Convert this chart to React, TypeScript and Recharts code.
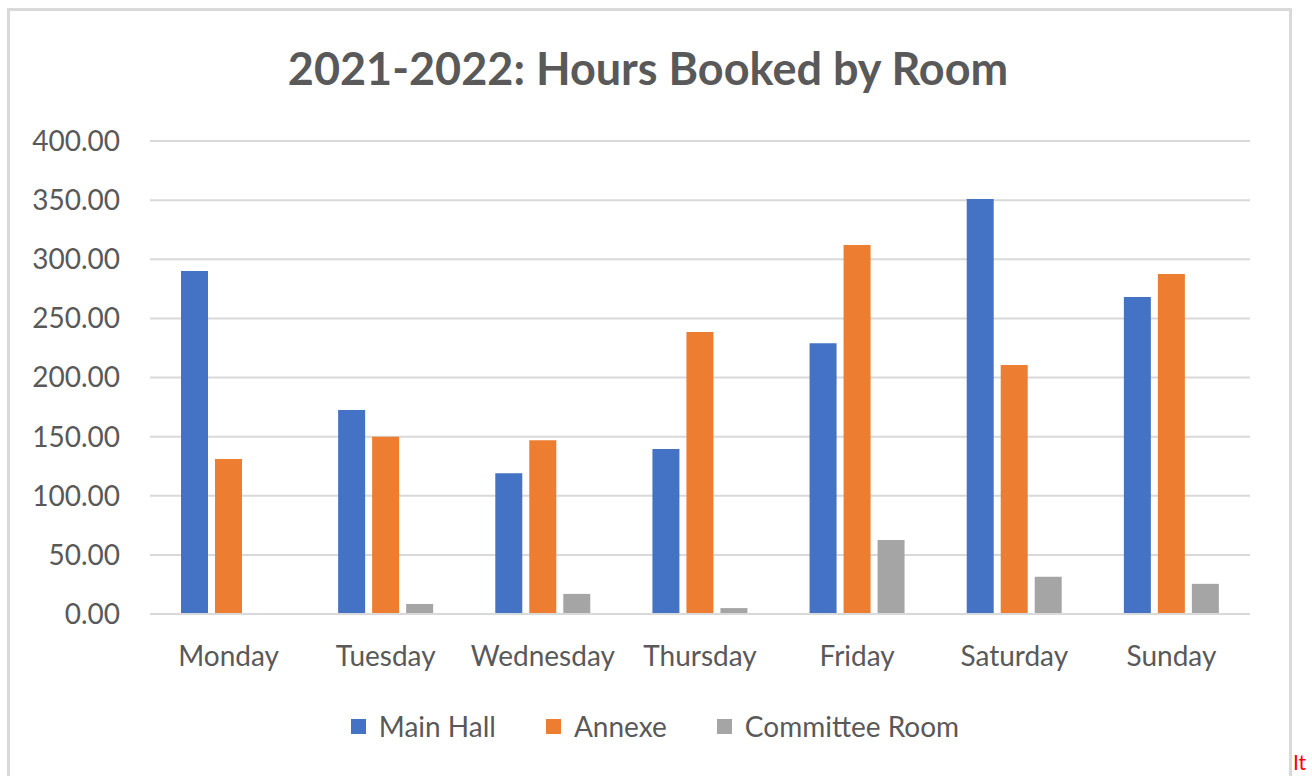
import React from "react";
import { BarChart, Bar, XAxis, YAxis, CartesianGrid } from "recharts";

const days = [
  "Monday",
  "Tuesday",
  "Wednesday",
  "Thursday",
  "Friday",
  "Saturday",
  "Sunday",
];
const mainHall = [290, 172.5, 119, 139.5, 229, 351, 268];
const annexe = [131, 150, 147, 238.5, 312, 210.5, 287.5];
const committeeRoom = [0, 8.5, 17, 5, 62.5, 31.5, 25.5];
const yTicks = [0, 50, 100, 150, 200, 250, 300, 350, 400];

const series = [
  { key: "mainHall", name: "Main Hall", color: "#4472C4" },
  { key: "annexe", name: "Annexe", color: "#ED7D31" },
  { key: "committeeRoom", name: "Committee Room", color: "#A5A5A5" },
];

const data = days.map((day, i) => ({
  day,
  mainHall: mainHall[i],
  annexe: annexe[i],
  committeeRoom: committeeRoom[i],
}));

const FONT = "Lato, 'Open Sans', sans-serif";
const TEXT = "#595959";

export default function App() {
  return (
    <div
      style={{
        position: "absolute",
        left: 0,
        top: 0,
        width: 1312,
        height: 776,
        overflow: "hidden",
        background: "#fff",
      }}
    >
      <div
        style={{
          position: "absolute",
          left: 7,
          top: 8,
          width: 1279,
          height: 820,
          border: "3px solid #d9d9d9",
        }}
      />
      <div
        style={{
          position: "absolute",
          left: 0,
          top: 38,
          width: 1296,
          textAlign: "center",
          fontFamily: FONT,
          fontWeight: 700,
          fontSize: 45,
          color: TEXT,
          lineHeight: "60px",
        }}
      >
        2021-2022: Hours Booked by Room
      </div>
      <div style={{ position: "absolute", left: 0, top: 0 }}>
        <BarChart
          width={1312}
          height={776}
          data={data}
          margin={{ top: 141, right: 62, bottom: 132, left: 0 }}
          barCategoryGap={31}
          barGap={7}
        >
          <CartesianGrid vertical={false} stroke="#d9d9d9" strokeWidth={2} />
          <XAxis
            dataKey="day"
            axisLine={{ stroke: "#d9d9d9", strokeWidth: 2 }}
            tickLine={false}
            tickMargin={26}
            tick={{ fill: TEXT, fontSize: 28, fontFamily: FONT }}
            interval={0}
          />
          <YAxis
            width={150}
            domain={[0, 400]}
            ticks={yTicks}
            axisLine={false}
            tickLine={false}
            tickMargin={24}
            tickFormatter={(v: number) => v.toFixed(2)}
            tick={{ fill: TEXT, fontSize: 28, fontFamily: FONT }}
          />
          {series.map((s) => (
            <Bar
              key={s.key}
              dataKey={s.key}
              name={s.name}
              fill={s.color}
              isAnimationActive={false}
            />
          ))}
        </BarChart>
      </div>
      {/* legend */}
      <div
        style={{
          position: "absolute",
          left: 0,
          top: 707,
          width: 1310,
          display: "flex",
          justifyContent: "center",
          alignItems: "center",
          fontFamily: FONT,
          fontSize: 28,
          lineHeight: "38px",
          color: TEXT,
        }}
      >
        {series.map((s, i) => (
          <div
            key={s.key}
            style={{
              display: "flex",
              alignItems: "center",
              marginLeft: i === 0 ? 0 : 50,
            }}
          >
            <span
              style={{
                width: 15,
                height: 15,
                background: s.color,
                display: "inline-block",
                marginRight: 13,
              }}
            />
            <span>{s.name}</span>
          </div>
        ))}
      </div>
      <div
        style={{
          position: "absolute",
          left: 1293,
          top: 751,
          fontFamily: "Lato, sans-serif",
          fontSize: 21,
          lineHeight: "22px",
          color: "#ff0000",
        }}
      >
        It
      </div>
    </div>
  );
}
